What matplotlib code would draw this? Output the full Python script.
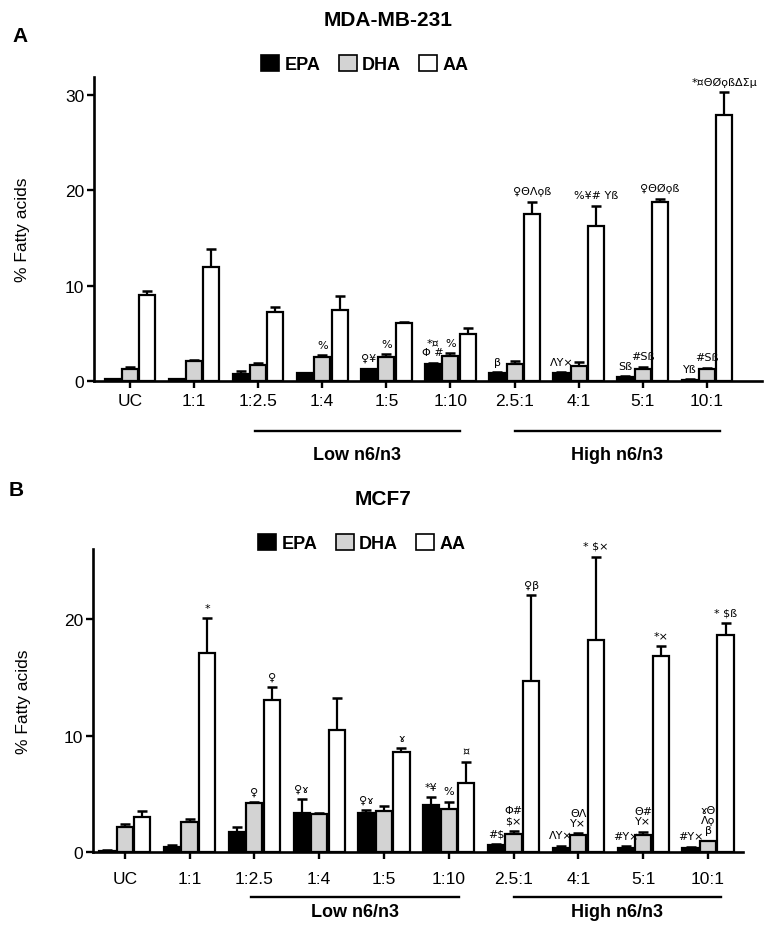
import matplotlib
matplotlib.use('Agg')
import matplotlib.pyplot as plt
import matplotlib.patches as patches
import matplotlib.transforms as mtransforms
import numpy as np

plt.rcParams['font.family'] = ['Liberation Sans', 'DejaVu Sans']

groups = ['UC', '1:1', '1:2.5', '1:4', '1:5', '1:10', '2.5:1', '4:1', '5:1', '10:1']
series = ['EPA', 'DHA', 'AA']
colors = ['black', '#d3d3d3', 'white']

# MDA-MB-231 (% fatty acids, mean and upper SEM)
epa_231 = [0.2, 0.2, 0.7, 0.8, 1.25, 1.8, 0.8, 0.8, 0.45, 0.15]
epa_231_err = [0.05, 0.05, 0.3, 0.05, 0.05, 0.1, 0.1, 0.1, 0.05, 0.05]
dha_231 = [1.3, 2.1, 1.7, 2.5, 2.5, 2.6, 1.8, 1.6, 1.3, 1.3]
dha_231_err = [0.2, 0.1, 0.15, 0.2, 0.3, 0.3, 0.3, 0.4, 0.2, 0.1]
aa_231 = [9.0, 12.0, 7.2, 7.5, 6.1, 4.9, 17.5, 16.3, 18.8, 27.9]
aa_231_err = [0.4, 1.8, 0.6, 1.4, 0.1, 0.7, 1.3, 2.1, 0.3, 2.4]

# MCF7
epa_mcf7 = [0.1, 0.4, 1.7, 3.3, 3.3, 4.0, 0.6, 0.35, 0.35, 0.3]
epa_mcf7_err = [0.02, 0.2, 0.4, 1.25, 0.3, 0.7, 0.1, 0.15, 0.1, 0.1]
dha_mcf7 = [2.15, 2.55, 4.15, 3.25, 3.5, 3.7, 1.55, 1.45, 1.45, 0.9]
dha_mcf7_err = [0.25, 0.3, 0.15, 0.1, 0.4, 0.6, 0.25, 0.15, 0.25, 0.05]
aa_mcf7 = [3.0, 17.1, 13.05, 10.5, 8.6, 5.9, 14.7, 18.2, 16.85, 18.65]
aa_mcf7_err = [0.5, 3.0, 1.15, 2.7, 0.3, 1.85, 7.35, 7.2, 0.85, 1.05]

# significance marks: (group index, series index, text)
marks_231 = [
    (3, 1, '%'),
    (4, 0, '♀¥'), (4, 1, '%'),
    (5, 0, '*¤\nΦ #'), (5, 1, '%'),
    (6, 0, 'β'), (6, 2, '♀ΘΛϙß'),
    (7, 0, 'ΛΥ×'), (7, 2, '%¥# Υß'),
    (8, 0, 'Sß'), (8, 1, '#Sß'), (8, 2, '♀ΘØϙß'),
    (9, 0, 'Υß'), (9, 1, '#Sß'), (9, 2, '*¤ΘØϙßΔΣμ'),
]
marks_mcf7 = [
    (1, 2, '*'),
    (2, 1, '♀'), (2, 2, '♀'),
    (3, 0, '♀ɤ'),
    (4, 0, '♀ɤ'), (4, 2, 'ɤ'),
    (5, 0, '*¥'), (5, 1, '%'), (5, 2, '¤'),
    (6, 0, '#$'), (6, 1, 'Φ#\n$×'), (6, 2, '♀β'),
    (7, 0, 'ΛΥ×'), (7, 1, 'ΘΛ\nΥ×'), (7, 2, '* $×'),
    (8, 0, '#Υ×'), (8, 1, 'Θ#\nΥ×'), (8, 2, '*×'),
    (9, 0, '#Υ×'), (9, 1, 'ɤΘ\nΛϙ\nβ'), (9, 2, '* $ß'),
]


def draw_panel(fig, rect, vals, errs, marks, ylim, xlim, yticks, title, letter,
               title_xy, letter_xy, legend_xy, line_y, text_y, tick_pad):
    ax = fig.add_axes(rect)
    x = np.arange(len(groups))
    width = 0.25
    offsets = [-0.27, 0.0, 0.27]
    tops = []
    for k in range(3):
        ax.bar(x + offsets[k], vals[k], width, color=colors[k],
               edgecolor='black', linewidth=1.6, zorder=2)
        ax.errorbar(x + offsets[k], vals[k],
                    yerr=[np.zeros(len(groups)), errs[k]], fmt='none',
                    ecolor='black', elinewidth=1.6, capsize=3.5, capthick=1.8,
                    zorder=1)
        tops.append(np.array(vals[k]) + np.array(errs[k]))

    for g, s, txt in marks:
        ax.annotate(txt, (x[g] + offsets[s], tops[s][g]), xytext=(0, 4),
                    textcoords='offset points', ha='center', va='bottom',
                    fontsize=8, linespacing=1.0, zorder=3,
                    family=['DejaVu Sans'])

    ax.set_xlim(*xlim)
    ax.set_ylim(*ylim)
    ax.set_xticks(x)
    ax.set_xticklabels(groups, fontsize=12.5)
    ax.set_yticks(yticks)
    ax.set_yticklabels([str(t) for t in yticks], fontsize=12.5)
    for side in ['top', 'right']:
        ax.spines[side].set_visible(False)
    for side in ['left', 'bottom']:
        ax.spines[side].set_linewidth(1.9)
    ax.tick_params(axis='both', length=5, width=1.7, direction='out')
    ax.tick_params(axis='x', pad=tick_pad)
    ax.tick_params(axis='y', pad=2)
    ax.set_ylabel('% Fatty acids', fontsize=12.5)
    ax.yaxis.set_label_coords(-0.096, 0.5)

    # group brackets under the x axis
    trans = mtransforms.blended_transform_factory(ax.transData, fig.transFigure)
    for (x0, x1), lab in [((1.95, 5.15), 'Low n6/n3'), ((6.0, 9.2), 'High n6/n3')]:
        ax.plot([x0, x1], [line_y, line_y], color='black', linewidth=1.7,
                transform=trans, clip_on=False)
        ax.text((x0 + x1) / 2, text_y, lab, transform=trans, ha='center',
                va='center', fontsize=13, fontweight='bold')

    fig.text(title_xy[0], title_xy[1], title, ha='center', va='center',
             fontsize=15, fontweight='bold')
    fig.text(letter_xy[0], letter_xy[1], letter, ha='center', va='center',
             fontsize=15, fontweight='bold')

    handles = [patches.Patch(facecolor=c, edgecolor='black', linewidth=1.2,
                             label=s) for c, s in zip(colors, series)]
    fig.legend(handles=handles, loc='center', bbox_to_anchor=legend_xy, ncol=3,
               frameon=False, handlelength=1.0, handleheight=1.0,
               handletextpad=0.3, columnspacing=1.0,
               prop={'weight': 'bold', 'size': 13})
    return ax


W, H = 766, 929
fig = plt.figure(figsize=(W / 100, H / 100), dpi=100)

draw_panel(fig, [94 / W, 1 - 382 / H, (762 - 94) / W, 304 / H],
           [epa_231, dha_231, aa_231], [epa_231_err, dha_231_err, aa_231_err],
           marks_231, (0, 31.9), (-0.56, 9.86), [0, 10, 20, 30],
           'MDA-MB-231', 'A', (388 / W, 1 - 20 / H), (20 / W, 1 - 37 / H),
           (365 / W, 1 - 65 / H), 1 - 432 / H, 1 - 455 / H, 4)

draw_panel(fig, [93 / W, 1 - 852.7 / H, (743 - 93) / W, 302.7 / H],
           [epa_mcf7, dha_mcf7, aa_mcf7],
           [epa_mcf7_err, dha_mcf7_err, aa_mcf7_err],
           marks_mcf7, (0, 26.05), (-0.49, 9.54), [0, 10, 20],
           'MCF7', 'B', (383 / W, 1 - 500 / H), (16 / W, 1 - 491 / H),
           (362 / W, 1 - 544 / H), 1 - 898 / H, 1 - 913 / H, 9)

fig.savefig('out.png', dpi=100)
